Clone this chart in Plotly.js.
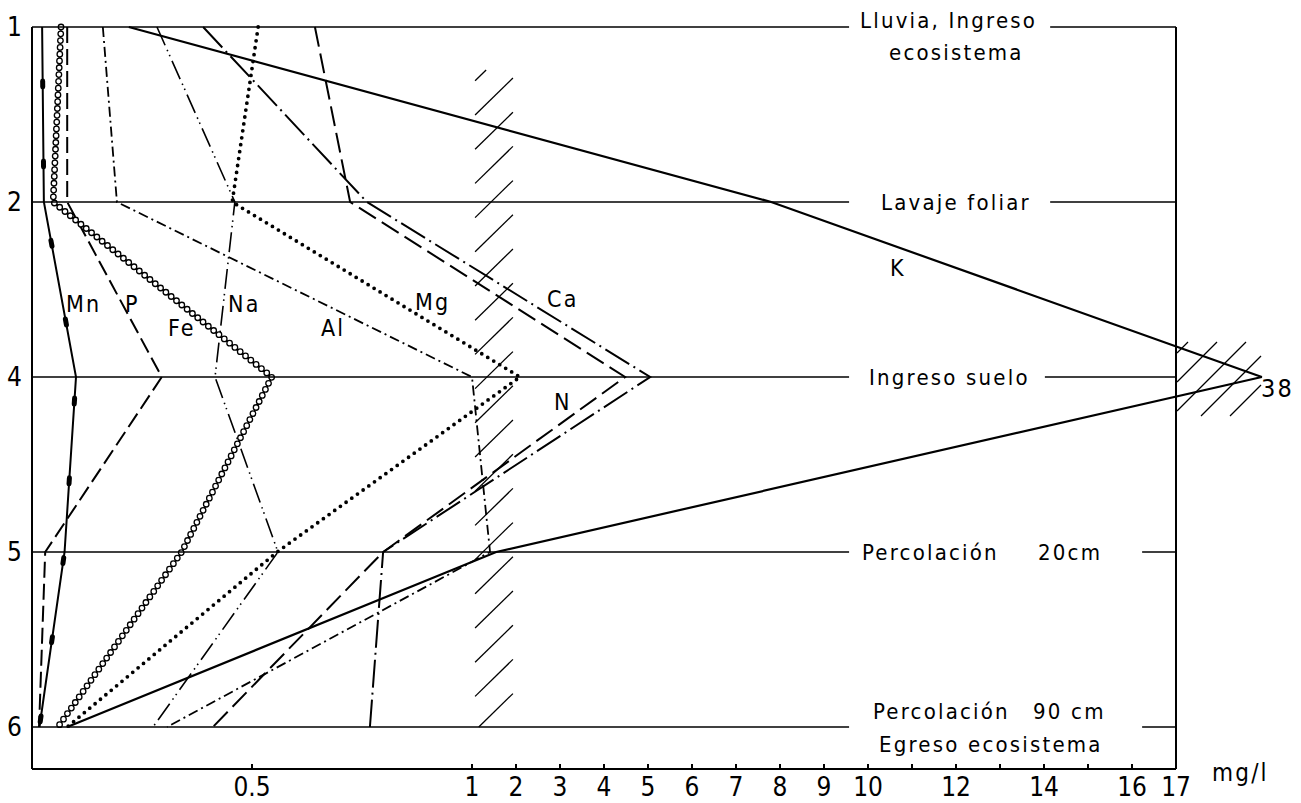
<!DOCTYPE html>
<html>
<head>
<meta charset="utf-8">
<script src="https://cdn.plot.ly/plotly-3.0.1.min.js"></script>
<style>
  html, body { margin: 0; padding: 0; background: #fff; }
  #chart { width: 1301px; height: 803px; }
  /* stencil-style lettering is widely spaced */
  text.annotation-text { letter-spacing: 2.2px; }
</style>
</head>
<body>
<div id="chart"></div>
<script>
// Sampling stages, top to bottom
const stages = ['1', '2', '4', '5', '6'];

// Concentrations (mg/l) at each stage
const Mn = [0.023, 0.027, 0.100, 0.074, 0.017];
const P  = [0.080, 0.080, 0.295, 0.030, 0.016];
const Fe = [0.066, 0.048, 0.545, 0.340, 0.059];
const Na = [0.284, 0.461, 0.416, 0.559, 0.275];
const Al = [0.161, 0.193, 1.00, 1.41, 0.307];
const Mg = [0.514, 0.455, 2.09, 0.557, 0.080];
const Ca = [0.389, 0.761, 5.05, 0.798, 0.768];
const N  = [0.643, 0.723, 4.48, 0.798, 0.411];
const K  = [0.22, 7.8, 38, 1.55, 0.08];

// x axis ticks (mg/l)
const tickValues = [0.5, 1, 2, 3, 4, 5, 6, 7, 8, 9, 10, 11, 12, 13, 14, 15, 16, 17];
const tickLabels = ['0.5', '1', '2', '3', '4', '5', '6', '7', '8', '9', '10', '', '12', '', '14', '', '16', '17'];

// Axis scale: 0–1 mg/l linear, 1–17 mg/l compressed tenfold, beyond 17 drawn past a break
const AXIS_END = 17;
const BREAK_POS = 2.795;
function toAxis(v) {
  if (v <= 1) return v;
  if (v <= AXIS_END) return 1 + (v - 1) / 10;
  return BREAK_POS;
}
const END_U = toAxis(AXIS_END);
const BOTTOM = 4.24;

const xr = [-5 / 440, -5 / 440 + 1260 / 440];
const yr = [BOTTOM, -5 / 175];
const stageY = stages.map((s, i) => i);

const FONT = 'DejaVu Sans Condensed, DejaVu Sans, sans-serif';

function trace(vals, opts) {
  return Object.assign({
    type: 'scatter', mode: 'lines',
    x: vals.map(toAxis), y: stageY,
    customdata: vals,
    hoverinfo: 'skip',
    line: { color: '#000', width: 2, dash: 'solid' }
  }, opts);
}

const data = [
  trace(K,  { name: 'K',  line: { color: '#000', width: 2.2 } }),
  trace(N,  { name: 'N',  line: { color: '#000', width: 2, dash: '20px,7px' } }),
  trace(Ca, { name: 'Ca', line: { color: '#000', width: 2, dash: '28px,5px,2px,5px' } }),
  trace(Al, { name: 'Al', line: { color: '#000', width: 1.8, dash: '10px,4px,2px,4px' } }),
  trace(Na, { name: 'Na', line: { color: '#000', width: 1.6, dash: '20px,5px,1.5px,4px,1.5px,5px' } }),
  trace(P,  { name: 'P',  line: { color: '#000', width: 2, dash: '16px,6px' } }),
  trace(Mn, { name: 'Mn', line: { color: '#000', width: 2 } }),
  // beads along the Mn line
  trace(Mn, { name: 'Mn beads', meta: { round: true, offset: -54 }, line: { color: '#000', width: 5, dash: '6px,74px' } }),
  // heavy dotted Mg line
  trace(Mg, { name: 'Mg', meta: { round: true }, line: { color: '#000', width: 3.8, dash: '0px,7px' } }),
  // chain of open rings for Fe: black dots with white centres
  trace(Fe, { name: 'Fe', meta: { round: true }, line: { color: '#000', width: 6.8, dash: '0px,6.8px' } }),
  trace(Fe, { name: 'Fe rings', meta: { round: true }, line: { color: '#fff', width: 4.2, dash: '0px,6.8px' } })
];

// ---- decorative shapes ----
const shapes = [];
function seg(x0, y0, x1, y1, w, ref) {
  shapes.push({
    type: 'line', xref: ref || 'x', yref: ref || 'y',
    x0: x0, y0: y0, x1: x1, y1: y1,
    line: { color: '#000', width: w }
  });
}
function paperX(u) { return (u - xr[0]) / (xr[1] - xr[0]); }
function paperY(i) { return (yr[0] - i) / (yr[0] - yr[1]); }

// frame
seg(0, 0, 0, BOTTOM, 2);
seg(END_U, 0, END_U, BOTTOM, 2);
shapes.push({ type: 'line', xref: 'paper', yref: 'paper',
  x0: paperX(0), x1: paperX(END_U), y0: paperY(BOTTOM), y1: paperY(BOTTOM),
  line: { color: '#000', width: 2 } });

// stage lines, interrupted by their captions
const gapStart = 1.857;
const gapEnd = [2.314, 2.314, 2.302, 2.523, 2.523];
stageY.forEach((i) => {
  seg(0, i, gapStart, i, 1.4);
  seg(gapEnd[i], i, END_U, i, 1.4);
});

// hatched band marking the scale change between 1 and 2 mg/l
(function () {
  const u0 = 1.007, u1 = 1.093;
  const top = (70 - 27) / 175, bot = 4.0;
  const rise = 37 / 175, step = 34.2 / 175, first = (115 - 27) / 175;
  for (let k = -1; k <= 19; k++) {
    const yl = first + k * step;
    const tMin = Math.max(0, (yl - bot) / rise);
    const tMax = Math.min(1, (yl - top) / rise);
    if (tMin >= tMax) continue;
    seg(u0 + (u1 - u0) * tMin, yl - rise * tMin, u0 + (u1 - u0) * tMax, yl - rise * tMax, 1.3);
  }
})();

// hatched axis break beside the K maximum
(function () {
  const pxU = 440, pxI = 175;
  const xMin = 1177, xMax = 1261, yMin = 342, yMax = 416;
  for (let k = 0; k <= 4; k++) {
    const c = 1530 + 29 * k;
    const xa = Math.max(xMin, c - yMax), xb = Math.min(xMax, c - yMin);
    if (xa >= xb) continue;
    seg((xa - 32) / pxU, (c - xa - 27) / pxI, (xb - 32) / pxU, (c - xb - 27) / pxI, 1.3);
  }
})();

// ---- text ----
const annotations = [];
function label(text, u, i, opts) {
  annotations.push(Object.assign({
    text: text, x: u, y: i, xref: 'x', yref: 'y',
    showarrow: false, xanchor: 'center', yanchor: 'middle',
    font: { family: FONT, size: 22, color: '#000' }
  }, opts || {}));
}

// stage captions
label('Lluvia, Ingreso', 2.082, 0, { yshift: 7 });
label('ecosistema', 2.100, 0.143);
label('Lavaje foliar', 2.100, 1);
label('Ingreso suelo', 2.086, 2);
label('Percolación', 2.041, 3);
label('20cm', 2.359, 3);
label('Percolación', 2.068, 4, { yshift: 16 });
label('90 cm', 2.357, 4, { yshift: 16 });
label('Egreso ecosistema', 2.180, 4, { yshift: -17 });

// element names beside their lines
const nameFont = { family: FONT, size: 23, color: '#000' };
label('Mn', 0.116, 1.583, { font: nameFont });
label('P', 0.2295, 1.583, { font: nameFont });
label('Fe', 0.341, 1.72, { font: nameFont });
label('Na', 0.484, 1.583, { font: nameFont });
label('Al', 0.684, 1.72, { font: nameFont });
label('Mg', 0.911, 1.571, { font: nameFont });
label('Ca', 1.207, 1.554, { font: nameFont });
label('N', 1.207, 2.143, { font: nameFont });
label('K', 1.968, 1.377, { font: nameFont });
label(String(K[2]), 2.83, 2.063, { font: { family: FONT, size: 25, color: '#000' } });

// unit
annotations.push({
  text: 'mg/l', xref: 'paper', yref: 'paper',
  x: paperX((1241 - 32) / 440), y: paperY(4.263),
  showarrow: false, xanchor: 'center', yanchor: 'middle',
  font: { family: FONT, size: 24, color: '#000' }
});

const layout = {
  width: 1301, height: 803,
  margin: { l: 27, r: 14, t: 22, b: 34 },
  paper_bgcolor: '#fff', plot_bgcolor: '#fff',
  showlegend: false,
  xaxis: {
    range: xr, showgrid: false, zeroline: false, showline: false,
    tickmode: 'array', tickvals: tickValues.map(toAxis), ticktext: tickLabels,
    ticks: 'inside', ticklen: 5, tickwidth: 1.5, tickcolor: '#000',
    tickfont: { family: FONT, size: 26, color: '#000' }
  },
  yaxis: {
    range: yr, showgrid: false, zeroline: false, showline: false,
    tickmode: 'array', tickvals: stageY, ticktext: stages,
    ticks: '', ticklabelstandoff: 4,
    tickfont: { family: FONT, size: 26, color: '#000' }
  },
  shapes: shapes,
  annotations: annotations
};

Plotly.newPlot('chart', data, layout, { staticPlot: true, displayModeBar: false }).then(function (gd) {
  // round caps turn short dashes into dots and beads
  const groups = gd.querySelectorAll('.scatterlayer .trace');
  gd._fullData.forEach(function (t, idx) {
    const m = t.meta;
    if (m && m.round && groups[idx]) {
      groups[idx].querySelectorAll('path.js-line').forEach(function (p) {
        p.style.strokeLinecap = 'round';
        p.style.strokeLinejoin = 'round';
        if (m.offset) p.style.strokeDashoffset = m.offset + 'px';
      });
    }
  });
});
</script>
</body>
</html>
